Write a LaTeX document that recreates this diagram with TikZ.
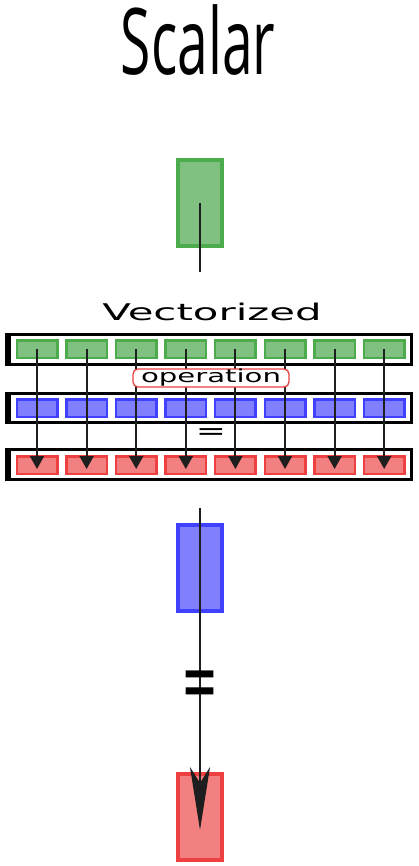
\documentclass[tikz,border=0pt]{standalone}
\usepackage{fontspec}
\usepackage{graphicx}
\setmainfont{DejaVu Sans}
\newfontfamily\titlefont{Open Sans}
\usetikzlibrary{arrows.meta}

\definecolor{cellgreen}{RGB}{128,192,128}
\definecolor{edgegreen}{RGB}{76,172,76}
\definecolor{cellblue}{RGB}{128,128,255}
\definecolor{edgeblue}{RGB}{64,64,255}
\definecolor{cellred}{RGB}{242,128,128}
\definecolor{edgered}{RGB}{238,64,64}
\definecolor{wire}{RGB}{30,30,30}

\tikzset{
  cell/.style={draw, line width=2.5pt, minimum width=40.5pt, minimum height=17.5pt, inner sep=0pt},
  scalarbox/.style={draw, line width=4pt, minimum width=44pt, minimum height=86pt, inner sep=0pt},
  vecarrow/.style={wire, line width=2pt, -{Triangle[length=13pt,width=14pt]}},
}

\begin{document}
\begin{tikzpicture}[x=1pt, y=-1pt]
\useasboundingbox (0,0) rectangle (418,866);

% Titles
\node[anchor=base] (scalar) at (198,75)
  {\titlefont\fontsize{92}{92}\selectfont\scalebox{0.6}[1]{Scalar}};
\node[anchor=base] (vectorized) at (212,320)
  {\fontsize{23}{23}\selectfont\scalebox{1.82}[1]{Vectorized}};

% Scalar operands
\node[scalarbox, draw=edgegreen, fill=cellgreen] (gs) at (200,203) {};
\coordinate (gtail) at (200,272);
\draw[wire, line width=1.8pt] (gs.center) -- (gtail);

% Frames around the three vectors
\foreach \top/\bot in {333/366, 392/424, 448/481} {
  \fill (5,\top) rectangle (413,\bot);
  \fill[white] (11,\top+3) rectangle (410,\bot-3);
}

% Vector cells
\foreach \i in {1,...,8} {
  \node[cell, draw=edgegreen, fill=cellgreen] (g\i) at (37+49.6*\i-49.6,349) {};
  \node[cell, draw=edgeblue, fill=cellblue] (b\i) at (37+49.6*\i-49.6,408) {};
  \node[cell, draw=edgered, fill=cellred] (r\i) at (37+49.6*\i-49.6,465) {};
}

% Element-wise arrows
\foreach \i in {1,...,8}
  \draw[vecarrow] (g\i.center) -- ([yshift=-4pt]r\i.center);

% Operation label and equals sign
\node[draw=edgered, line width=1.3pt, fill=white, rounded corners=5pt,
      minimum width=156pt, minimum height=18pt, inner sep=0pt] (op) at (211,378)
  {\fontsize{18}{18}\selectfont\scalebox{1.62}[1]{operation}};
\node (veq) at (211,434) {\fontsize{24}{24}\selectfont\scalebox{1.5}[1]{=}};

% Scalar result
\node[scalarbox, draw=edgeblue, fill=cellblue] (bs) at (200,568) {};
\node[scalarbox, draw=edgered, fill=cellred] (rs) at (200,817) {};
\coordinate (bhead) at (200,508);
\draw[wire, line width=1.8pt, -{Stealth[length=63pt,width=20pt,inset=16pt]}]
  (bhead) -- ([yshift=-13pt]rs.center);
\node[inner sep=0pt] (seq) at (200,690)
  {\fontsize{85}{85}\selectfont\scalebox{0.52}[1]{=}};

\end{tikzpicture}
\end{document}
